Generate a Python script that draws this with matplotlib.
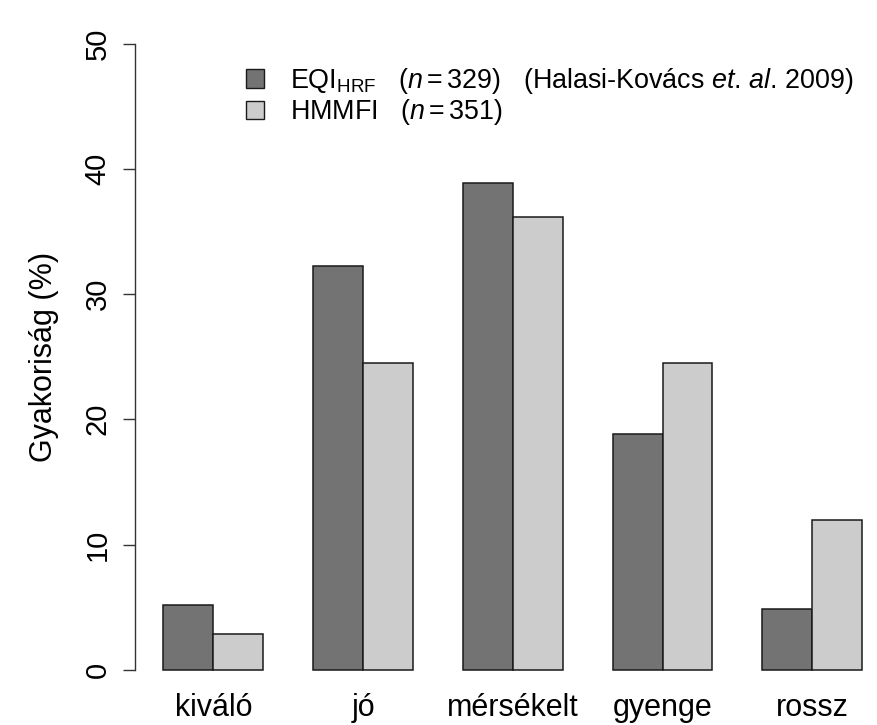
import numpy as np
import matplotlib
matplotlib.use('Agg')
import matplotlib.pyplot as plt
from matplotlib.patches import Patch

plt.rcParams['font.family'] = ['Liberation Sans', 'DejaVu Sans']
plt.rcParams['mathtext.fontset'] = 'custom'
plt.rcParams['mathtext.rm'] = 'Liberation Sans'
plt.rcParams['mathtext.it'] = 'Liberation Sans:italic'
plt.rcParams['mathtext.bf'] = 'Liberation Sans:bold'

# minosites kategoriak es gyakorisagok (%)
categories = ['kiváló', 'jó', 'mérsékelt', 'gyenge', 'rossz']
eqi_hrf = [5.17, 32.22, 38.91, 18.84, 4.86]     # n = 329
hmmfi = [2.85, 24.50, 36.18, 24.50, 11.97]      # n = 351
yticks = [0, 10, 20, 30, 40, 50]

dark = '#737373'
light = '#cccccc'
edge = '#1a1a1a'

W, H = 877, 725
fig = plt.figure(figsize=(W / 100, H / 100), dpi=100)

# R barplot style: bars of width 1, one empty bar between groups
xlim = (0.44, 15.3)
ylim = (-2, 52)
px_x = 49.92
px_y = 12.52
left = 135.4
bottom_px = 669.7 + 2 * px_y
ax = fig.add_axes([left / W, 1 - bottom_px / H,
                   (xlim[1] - xlim[0]) * px_x / W,
                   (ylim[1] - ylim[0]) * px_y / H])

x = np.arange(len(categories)) * 3 + 2
ax.bar(x - 0.5, eqi_hrf, width=1, color=dark, edgecolor=edge, linewidth=1.1)
ax.bar(x + 0.5, hmmfi, width=1, color=light, edgecolor=edge, linewidth=1.1)

ax.set_xlim(*xlim)
ax.set_ylim(*ylim)

for s in ['top', 'right', 'bottom']:
    ax.spines[s].set_visible(False)
ax.spines['left'].set_bounds(0, 50)
ax.spines['left'].set_color('#333333')
ax.spines['left'].set_linewidth(1.0)

ax.set_yticks(yticks)
ax.set_yticklabels([str(t) for t in yticks], rotation=90, va='center', fontsize=21)
ax.tick_params(axis='y', length=9, width=1.0, color='#333333', pad=8)

ax.set_xticks(x)
ax.set_xticklabels(categories, fontsize=22)
ax.tick_params(axis='x', length=0, pad=-1)

ax.set_ylabel('Gyakoriság (%)', fontsize=22)
ax.yaxis.set_label_coords(-0.103, 0.5)

handles = [Patch(facecolor=dark, edgecolor=edge, linewidth=1.0),
           Patch(facecolor=light, edgecolor=edge, linewidth=1.0)]
labels = [r'EQI$_{\mathrm{HRF}}$$\quad(n = 329)\quad$(Halasi-Kovács $\mathit{et}$. $\mathit{al}$. 2009)',
          r'HMMFI$\quad(n = 351)$']
ax.legend(handles, labels, loc='upper left', bbox_to_anchor=(245.7 / W, 1 - 66 / H),
          bbox_transform=fig.transFigure, frameon=False, fontsize=19.4,
          handlelength=0.68, handleheight=0.68, handletextpad=0.95,
          labelspacing=0.05, borderpad=0, borderaxespad=0)

fig.savefig('out.png', dpi=100, facecolor='white')
